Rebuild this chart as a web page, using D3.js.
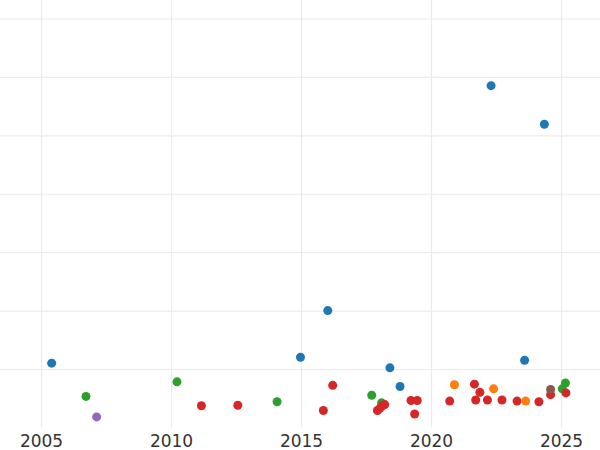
<!DOCTYPE html>
<html>
<head>
<meta charset="utf-8">
<script src="https://cdn.jsdelivr.net/npm/d3@7"></script>
<style>
  html, body { margin: 0; padding: 0; background: #fff; }
  svg { display: block; }
</style>
</head>
<body>
<svg id="chart" width="600" height="450"></svg>
<script>
// ---- data ----
const groups = ["G1", "G2", "G3", "G4", "G5", "G6"];
const groupColors = ["#1f77b4", "#ff7f0e", "#2ca02c", "#d62728", "#9467bd", "#8c564b"];

const years = [
  2005.41, 2006.73, 2007.14, 2010.23, 2011.17, 2012.57, 2014.08, 2014.98,
  2016.03, 2015.86, 2016.22, 2017.72, 2018.10, 2017.94, 2018.04, 2018.13,
  2018.22, 2018.42, 2018.81, 2019.23, 2019.47, 2019.37, 2020.72, 2020.90,
  2021.67, 2021.88, 2021.72, 2022.41, 2022.17, 2022.73, 2023.31, 2023.64,
  2023.60, 2024.15, 2024.60, 2024.60, 2025.05, 2025.17, 2025.19, 2022.31,
  2024.36
];
const values = [
  1.10, 0.53, 0.18, 0.78, 0.37, 0.38, 0.44, 1.20,
  2.00, 0.29, 0.72, 0.55, 0.42, 0.29, 0.33, 0.37,
  0.39, 1.02, 0.70, 0.46, 0.46, 0.23, 0.45, 0.73,
  0.74, 0.60, 0.47, 0.66, 0.47, 0.47, 0.45, 0.45,
  1.15, 0.44, 0.56, 0.65, 0.66, 0.76, 0.59, 5.85,
  5.19
];
const pointGroup = [
  "G1", "G3", "G5", "G3", "G4", "G4", "G3", "G1",
  "G1", "G4", "G4", "G3", "G3", "G4", "G4", "G4",
  "G4", "G1", "G1", "G4", "G4", "G4", "G4", "G2",
  "G4", "G4", "G4", "G2", "G4", "G4", "G4", "G2",
  "G1", "G4", "G4", "G6", "G3", "G3", "G4", "G1",
  "G1"
];
const xTicks = [2005, 2010, 2015, 2020, 2025];
const yGrid = [1, 2, 3, 4, 5, 6, 7];

// ---- layout ----
const W = 600, H = 450;
const plotBottom = 427.4;
const svg = d3.select("#chart");

const x = d3.scaleLinear().domain([2005, 2025]).range([41, 561]);
const y = d3.scaleLinear().domain([0, 7]).range([plotBottom, 18.5]);
const color = d3.scaleOrdinal().domain(groups).range(groupColors);

const gridColor = "#ebebeb";

// horizontal grid
svg.append("g")
  .attr("class", "ygrid")
  .call(d3.axisLeft(y).tickValues(yGrid).tickSize(-W).tickFormat(""))
  .call(g => g.select(".domain").remove())
  .call(g => g.selectAll("line").attr("stroke", gridColor).attr("stroke-width", 1.2));

// vertical grid + x labels
svg.append("g")
  .attr("class", "xaxis")
  .attr("transform", `translate(0,${plotBottom})`)
  .call(d3.axisBottom(x).tickValues(xTicks).tickSize(-plotBottom).tickPadding(0).tickFormat(d3.format("d")))
  .call(g => g.select(".domain").remove())
  .call(g => g.selectAll("line").attr("stroke", gridColor).attr("stroke-width", 1.2))
  .call(g => g.selectAll("text")
    .attr("y", 20)
    .attr("dy", 0)
    .attr("fill", "#333")
    .style("font-family", "'DejaVu Sans', sans-serif")
    .style("font-size", "17px"));

// points
const pts = years.map((yr, i) => ({ year: yr, value: values[i], group: pointGroup[i] }));
svg.append("g")
  .attr("class", "points")
  .selectAll("circle")
  .data(pts)
  .join("circle")
  .attr("cx", d => x(d.year))
  .attr("cy", d => y(d.value))
  .attr("r", 4.5)
  .attr("fill", d => color(d.group));
</script>
</body>
</html>
